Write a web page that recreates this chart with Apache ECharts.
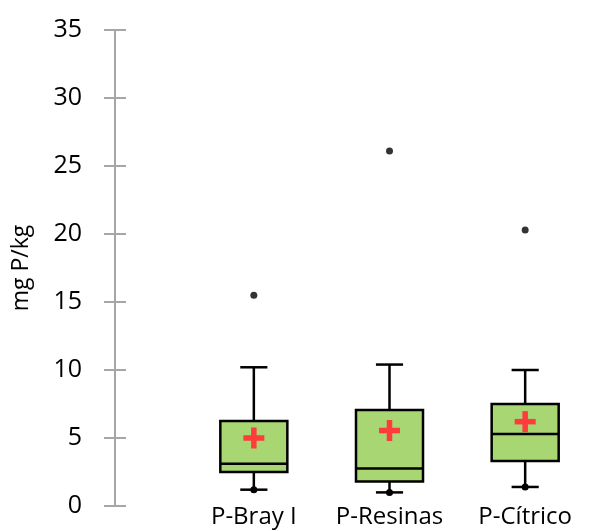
<!DOCTYPE html>
<html>
<head>
<meta charset="utf-8">
<script src="https://cdn.jsdelivr.net/npm/echarts@6/dist/echarts.min.js"></script>
<style>
html,body{margin:0;padding:0;background:#fff;}
#chart{width:593px;height:531px;}
</style>
</head>
<body>
<div id="chart"></div>
<script>
var categories = ['P-Bray I', 'P-Resinas', 'P-Cítrico'];
var lowWhisker = [1.2, 1.0, 1.4];
var q1 = [2.5, 1.8, 3.3];
var median = [3.1, 2.75, 5.3];
var q3 = [6.25, 7.05, 7.5];
var highWhisker = [10.2, 10.4, 10.0];
var means = [5.0, 5.55, 6.2];
var outliers = [[0, 15.5], [1, 26.1], [2, 20.3]];
var yTicks = {min: 0, max: 35, interval: 5};
var yName = 'mg P/kg';

var FONT = 'Open Sans';
var boxData = categories.map(function (c, i) {
  return [i, lowWhisker[i], q1[i], median[i], q3[i], highWhisker[i], means[i]];
});

function renderBox(params, api) {
  var idx = api.value(0);
  var band = api.size([1, 0])[0];
  var bw = band * 0.494;
  var cw = band * 0.2;
  var pLow = api.coord([idx, api.value(1)]);
  var pQ1 = api.coord([idx, api.value(2)]);
  var pMed = api.coord([idx, api.value(3)]);
  var pQ3 = api.coord([idx, api.value(4)]);
  var pHigh = api.coord([idx, api.value(5)]);
  var pMean = api.coord([idx, api.value(6)]);
  var x = pQ1[0];
  var lineStyle = {stroke: '#000', lineWidth: 2.5, fill: null};
  var arm = 10.5, th = 5.5;
  return {
    type: 'group',
    children: [
      {type: 'line', shape: {x1: x, y1: pQ3[1], x2: x, y2: pHigh[1]}, style: lineStyle},
      {type: 'line', shape: {x1: x, y1: pQ1[1], x2: x, y2: pLow[1]}, style: lineStyle},
      {type: 'line', shape: {x1: x - cw / 2, y1: pHigh[1], x2: x + cw / 2, y2: pHigh[1]}, style: lineStyle},
      {type: 'line', shape: {x1: x - cw / 2, y1: pLow[1], x2: x + cw / 2, y2: pLow[1]}, style: lineStyle},
      {type: 'rect', shape: {x: x - bw / 2, y: pQ3[1], width: bw, height: pQ1[1] - pQ3[1]},
        style: {fill: '#a8d672', stroke: '#000', lineWidth: 2.5}},
      {type: 'line', shape: {x1: x - bw / 2, y1: pMed[1], x2: x + bw / 2, y2: pMed[1]}, style: lineStyle},
      {type: 'circle', shape: {cx: x, cy: pLow[1], r: 3.5}, style: {fill: '#000'}},
      {type: 'rect', shape: {x: pMean[0] - arm, y: pMean[1] - th / 2, width: arm * 2, height: th}, style: {fill: '#ff3b3b'}},
      {type: 'rect', shape: {x: pMean[0] - th / 2, y: pMean[1] - arm, width: th, height: arm * 2}, style: {fill: '#ff3b3b'}}
    ]
  };
}

var chart = echarts.init(document.getElementById('chart'), null, {renderer: 'canvas'});
chart.setOption({
  animation: false,
  backgroundColor: '#fff',
  textStyle: {fontFamily: FONT},
  grid: {left: 186, top: 30, width: 425, height: 476, containLabel: false},
  xAxis: {
    type: 'category',
    data: categories,
    axisLine: {show: false},
    axisTick: {show: false},
    splitLine: {show: false},
    axisLabel: {interval: 0, color: '#000', fontFamily: FONT, fontSize: 24, margin: -1}
  },
  yAxis: [
    {
      type: 'value', position: 'left', offset: 71,
      min: yTicks.min, max: yTicks.max, interval: yTicks.interval,
      name: yName, nameLocation: 'middle', nameGap: 82, nameRotate: 90,
      nameTextStyle: {color: '#000', fontFamily: FONT, fontSize: 23},
      axisLine: {show: true, lineStyle: {color: '#a6a6a6', width: 2}},
      axisTick: {show: true, length: 11, lineStyle: {color: '#a6a6a6', width: 2}},
      splitLine: {show: false},
      axisLabel: {color: '#000', fontFamily: FONT, fontSize: 25, margin: 33}
    },
    {
      type: 'value', position: 'left', offset: 71,
      min: yTicks.min, max: yTicks.max, interval: yTicks.interval,
      axisLine: {show: false},
      axisTick: {show: true, inside: true, length: 11, lineStyle: {color: '#a6a6a6', width: 2}},
      splitLine: {show: false},
      axisLabel: {show: false}
    }
  ],
  series: [
    {
      type: 'custom',
      renderItem: renderBox,
      data: boxData,
      encode: {x: 0, y: [1, 2, 3, 4, 5]},
      z: 2
    },
    {
      type: 'scatter',
      data: outliers,
      symbol: 'circle',
      symbolSize: 7,
      itemStyle: {color: '#000'},
      z: 3
    }
  ]
});
</script>
</body>
</html>
